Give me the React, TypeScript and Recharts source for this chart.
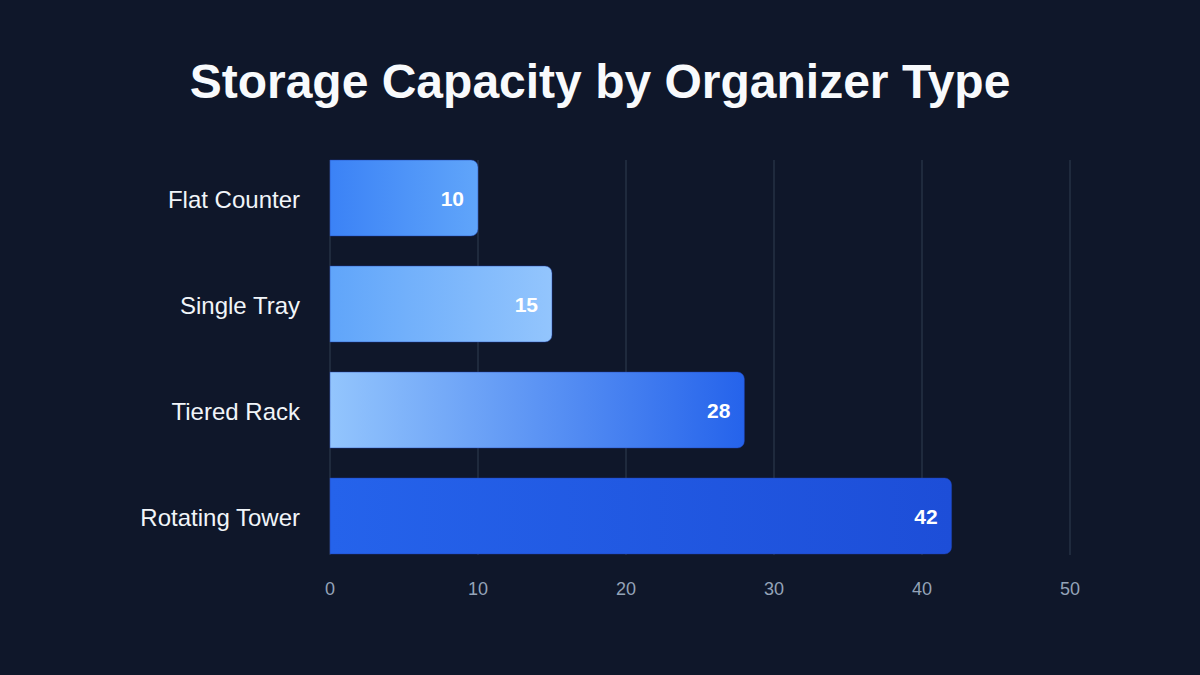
import React from 'react';
import { BarChart, Bar, XAxis, YAxis, CartesianGrid, LabelList, Cell } from 'recharts';

const organizers = ['Flat Counter', 'Single Tray', 'Tiered Rack', 'Rotating Tower'];
const capacity = [10, 15, 28, 42];
const xTicks = [0, 10, 20, 30, 40, 50];

// left → right gradient stops for each bar
const gradientStops: [string, string][] = [
    ['#3b82f6', '#60a5fa'],
    ['#60a5fa', '#93c5fd'],
    ['#93c5fd', '#2563eb'],
    ['#2563eb', '#1d4ed8'],
];

const data = organizers.map((name, i) => ({ name, value: capacity[i] }));

const FONT = '"Liberation Sans", Arial, Helvetica, sans-serif';

// grid lines stop short of the outer category padding
const GridLine = (props: any) => {
    const { x1, x2, y1, y2 } = props;
    return <line x1={x1} x2={x2} y1={y1 + 15} y2={y2 - 14} stroke="#1f2a3d" strokeWidth={2} />;
};

const App: React.FC = () => {
    return (
        <div
            style={{
                position: 'absolute',
                top: 0,
                left: 0,
                width: 1200,
                height: 675,
                background: '#0f172a',
                fontFamily: FONT,
            }}
        >
            <div
                style={{
                    position: 'absolute',
                    top: 52,
                    left: 0,
                    width: 1200,
                    textAlign: 'center',
                    color: '#f8fafc',
                    fontSize: 48,
                    fontWeight: 700,
                    lineHeight: '60px',
                }}
            >
                Storage Capacity by Organizer Type
            </div>
            <div style={{ position: 'absolute', top: 0, left: 0 }}>
                <BarChart
                    width={1200}
                    height={675}
                    data={data}
                    layout="vertical"
                    margin={{ top: 145, right: 130, bottom: 66, left: 0 }}
                    barCategoryGap={15}
                >
                    <defs>
                        {gradientStops.map(([from, to], i) => (
                            <linearGradient key={i} id={`barGrad${i}`} x1="0" y1="0" x2="1" y2="0">
                                <stop offset="0%" stopColor={from} />
                                <stop offset="100%" stopColor={to} />
                            </linearGradient>
                        ))}
                    </defs>
                    <CartesianGrid horizontal={false} vertical={GridLine} />
                    <XAxis
                        type="number"
                        domain={[0, 50]}
                        ticks={xTicks}
                        axisLine={false}
                        tickLine={false}
                        height={40}
                        tickMargin={7}
                        tick={{ fill: '#94a3b8', fontSize: 18, fontFamily: FONT }}
                    />
                    <YAxis
                        type="category"
                        dataKey="name"
                        width={330}
                        axisLine={false}
                        tickLine={false}
                        tickSize={0}
                        tickMargin={30}
                        tick={{ fill: '#f1f5f9', fontSize: 24, fontFamily: FONT, dy: 1 }}
                    />
                    <Bar dataKey="value" radius={[0, 7, 7, 0]} isAnimationActive={false}>
                        {data.map((_, i) => (
                            <Cell key={i} fill={`url(#barGrad${i})`} stroke="rgba(30,64,175,0.45)" strokeWidth={1} />
                        ))}
                        <LabelList
                            dataKey="value"
                            position="insideRight"
                            offset={14}
                            dy={1}
                            fill="#ffffff"
                            fontSize={21}
                            fontWeight={700}
                            fontFamily={FONT}
                        />
                    </Bar>
                </BarChart>
            </div>
        </div>
    );
};

export default App;
